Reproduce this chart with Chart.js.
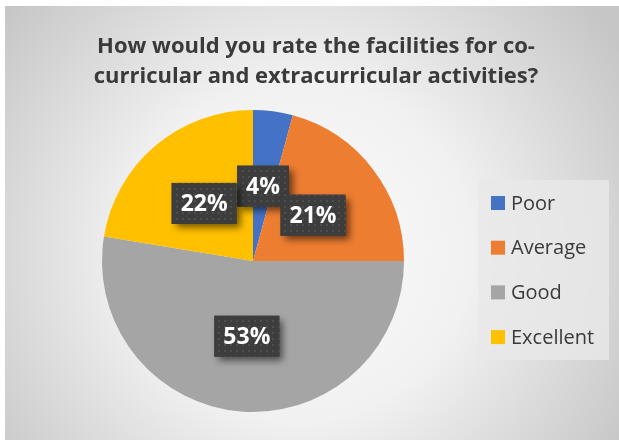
<!DOCTYPE html>
<html>
<head>
<meta charset="utf-8">
<script src="https://cdn.jsdelivr.net/npm/chart.js@4/dist/chart.umd.min.js"></script>
<style>
  html, body { margin: 0; padding: 0; background: #fff; }
  canvas { display: block; }
</style>
</head>
<body>
<canvas id="chart" width="619" height="440"></canvas>
<script>
// values
const titleLines = ['How would you rate the facilities for co-', 'curricular and extracurricular activities?'];
const categories = ['Poor', 'Average', 'Good', 'Excellent'];
const shares = [4.25, 20.75, 52.6, 22.4];
const sliceColors = ['#4472C4', '#ED7D31', '#A5A5A5', '#FFC000'];

const textColor = '#3a3a3a';

// small dotted tile for the label boxes
function makeDots(ctx) {
    const tile = document.createElement('canvas');
    tile.width = 6; tile.height = 6;
    const t = tile.getContext('2d');
    t.fillStyle = '#3d3d3d';
    t.fillRect(0, 0, 6, 6);
    t.fillStyle = '#4e4e4e';
    t.fillRect(2, 2, 2, 2);
    return ctx.createPattern(tile, 'repeat');
}

const backdrop = {
    id: 'backdrop',
    beforeDraw(chart) {
        const ctx = chart.ctx;
        ctx.save();
        ctx.fillStyle = '#fff';
        ctx.fillRect(0, 0, chart.width, chart.height);
        const g = ctx.createRadialGradient(300, 250, 0, 300, 250, 380);
        g.addColorStop(0, '#fbfbfb');
        g.addColorStop(0.45, '#f1f1f1');
        g.addColorStop(1, '#c6c6c6');
        ctx.fillStyle = g;
        ctx.fillRect(5, 6, chart.width - 5, chart.height - 6);

        // title
        ctx.fillStyle = textColor;
        ctx.font = 'bold 22px "Open Sans"';
        ctx.textAlign = 'center';
        ctx.textBaseline = 'middle';
        titleLines.forEach((line, i) => ctx.fillText(line, 316, 47 + i * 30));

        // legend
        ctx.fillStyle = 'rgba(232,232,232,0.8)';
        ctx.fillRect(478, 180, 131, 180);
        ctx.font = '20px "Open Sans"';
        ctx.textAlign = 'left';
        chart.data.labels.forEach((name, i) => {
            const y = 203 + i * 44.7;
            ctx.fillStyle = chart.data.datasets[0].backgroundColor[i];
            ctx.fillRect(491, y - 7, 14, 14);
            ctx.fillStyle = textColor;
            ctx.fillText(name, 511, y + 1);
        });
        ctx.restore();
    }
};

const sliceLabels = {
    id: 'sliceLabels',
    afterDatasetsDraw(chart) {
        const ctx = chart.ctx;
        const meta = chart.getDatasetMeta(0);
        const values = chart.data.datasets[0].data;
        const total = values.reduce((a, b) => a + b, 0);
        const dots = makeDots(ctx);
        ctx.save();
        ctx.font = 'bold 23px "Open Sans"';
        ctx.textAlign = 'center';
        ctx.textBaseline = 'middle';
        meta.data.forEach((arc, i) => {
            const p = arc.getCenterPoint();
            const text = Math.round(values[i] / total * 100) + '%';
            const w = ctx.measureText(text).width + 18;
            const h = 41;
            const x = p.x - w / 2, y = p.y - h / 2;
            ctx.save();
            ctx.shadowColor = 'rgba(0,0,0,0.55)';
            ctx.shadowBlur = 7;
            ctx.shadowOffsetX = 4;
            ctx.shadowOffsetY = 4;
            ctx.fillStyle = '#3d3d3d';
            ctx.fillRect(x, y, w, h);
            ctx.restore();
            ctx.fillStyle = dots;
            ctx.fillRect(x, y, w, h);
            ctx.fillStyle = '#fff';
            ctx.fillText(text, p.x, p.y + 1);
        });
        ctx.restore();
    }
};

new Chart(document.getElementById('chart'), {
    type: 'pie',
    data: {
        labels: categories,
        datasets: [{
            data: shares,
            backgroundColor: sliceColors,
            borderWidth: 0
        }]
    },
    options: {
        responsive: false,
        animation: false,
        events: [],
        layout: { padding: { left: 102, right: 215, top: 110, bottom: 28 } },
        plugins: {
            legend: { display: false },
            title: { display: false },
            tooltip: { enabled: false }
        }
    },
    plugins: [backdrop, sliceLabels]
});
</script>
</body>
</html>
